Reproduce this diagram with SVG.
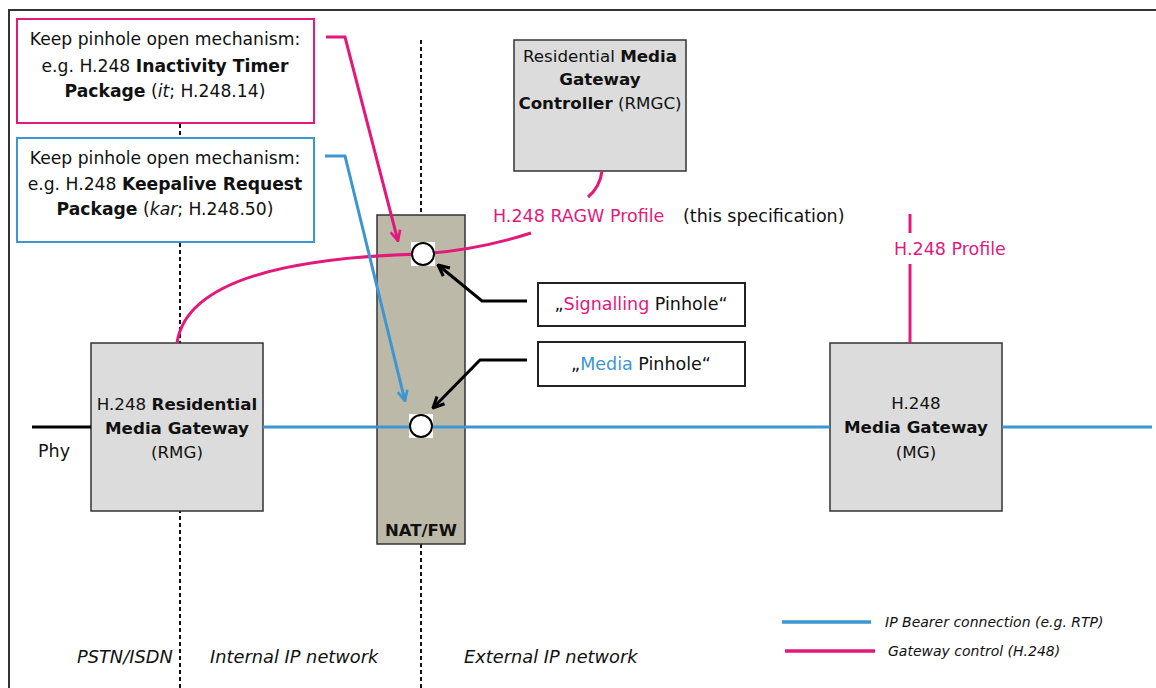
<svg xmlns="http://www.w3.org/2000/svg" width="1156" height="688" viewBox="0 0 1156 688">
  <defs>
    <style>
      text { font-family: "DejaVu Sans", "Liberation Sans", sans-serif; font-size: 17.5px; fill: #111; }
      .c { text-anchor: middle; }
      .b { font-weight: bold; }
      .i { font-style: italic; }
      .pk { fill: #e2197b; }
      .bl { fill: #3d95d1; }
      .box { fill: #dcdcdc; stroke: #333; stroke-width: 1.5; }
      .node text { font-size: 16.7px; }
      .note { fill: #fff; stroke-width: 2; }
      .notes text { font-size: 17.2px; }
      .divider { fill: none; stroke: #111; stroke-width: 2; stroke-dasharray: 4 3; }
      .ctl { fill: none; stroke: #e2197b; stroke-width: 3; }
      .bear { fill: none; stroke: #3d95d1; stroke-width: 3; }
      .ptr { fill: none; stroke: #000; stroke-width: 3; }
      .legend { font-size: 14px; }
      .zone { font-size: 17.8px; }
    </style>
    <marker id="ahPink" viewBox="0 0 12 12" refX="11" refY="6" markerWidth="13" markerHeight="13" markerUnits="userSpaceOnUse" orient="auto">
      <path d="M1.5,1.5 L11,6 L1.5,10.5" fill="none" stroke="#e2197b" stroke-width="2.4"/>
    </marker>
    <marker id="ahBlue" viewBox="0 0 12 12" refX="11" refY="6" markerWidth="13" markerHeight="13" markerUnits="userSpaceOnUse" orient="auto">
      <path d="M1.5,1.5 L11,6 L1.5,10.5" fill="none" stroke="#3d95d1" stroke-width="2.4"/>
    </marker>
    <marker id="ahBlack" viewBox="0 0 12 12" refX="11" refY="6" markerWidth="14" markerHeight="14" markerUnits="userSpaceOnUse" orient="auto">
      <path d="M1.5,1.5 L11,6 L1.5,10.5" fill="none" stroke="#000" stroke-width="2.6"/>
    </marker>
  </defs>

  <rect width="1156" height="688" fill="#fff"/>

  <!-- outer frame (top and left edges) -->
  <path d="M9,688 L9,10 L1156,10" fill="none" stroke="#333" stroke-width="2"/>

  <!-- zone dividers -->
  <g id="dividers">
    <line class="divider" x1="180" y1="19" x2="180" y2="688"/>
    <line class="divider" x1="421" y1="40" x2="421" y2="688"/>
  </g>

  <!-- notes -->
  <g id="note-inactivity" class="notes">
    <rect class="note" x="17" y="19" width="297" height="104" stroke="#e2197b"/>
    <text class="c" x="165" y="45">Keep pinhole open mechanism:</text>
    <text class="c" x="165" y="72">e.g. H.248 <tspan class="b">Inactivity Timer</tspan></text>
    <text class="c" x="165" y="97"><tspan class="b">Package</tspan> (<tspan class="i">it</tspan>; H.248.14)</text>
  </g>
  <g id="note-keepalive" class="notes">
    <rect class="note" x="17" y="138" width="297" height="104" stroke="#3d95d1"/>
    <text class="c" x="165" y="164">Keep pinhole open mechanism:</text>
    <text class="c" x="165" y="190">e.g. H.248 <tspan class="b">Keepalive Request</tspan></text>
    <text class="c" x="165" y="215"><tspan class="b">Package</tspan> (<tspan class="i">kar</tspan>; H.248.50)</text>
  </g>

  <!-- controller -->
  <g id="rmgc" class="node">
    <rect class="box" x="514" y="40" width="172" height="131"/>
    <text class="c" x="600" y="62">Residential <tspan class="b">Media</tspan></text>
    <text class="c b" x="600" y="85">Gateway</text>
    <text class="c" x="600" y="109"><tspan class="b">Controller</tspan> (RMGC)</text>
  </g>

  <!-- NAT / firewall -->
  <g id="natfw">
    <rect x="377" y="215" width="88" height="329" fill="#bdb9a8" stroke="#333" stroke-width="1.5"/>
    <text class="c b" x="421" y="536" style="font-size:16.5px">NAT/FW</text>
  </g>

  <!-- gateways -->
  <g id="rmg" class="node">
    <rect class="box" x="91" y="343" width="172" height="168"/>
    <text class="c" x="177" y="410">H.248 <tspan class="b">Residential</tspan></text>
    <text class="c b" x="177" y="434">Media Gateway</text>
    <text class="c" x="177" y="458">(RMG)</text>
  </g>
  <g id="mg" class="node">
    <rect class="box" x="830" y="343" width="172" height="168"/>
    <text class="c" x="916" y="409">H.248</text>
    <text class="c b" x="916" y="433">Media Gateway</text>
    <text class="c" x="916" y="458">(MG)</text>
  </g>

  <!-- pinhole labels -->
  <g id="label-signalling">
    <rect x="538" y="283" width="207" height="43" fill="#fff" stroke="#222" stroke-width="2"/>
    <text class="c" x="641" y="310">„<tspan class="pk">Signalling</tspan> Pinhole“</text>
  </g>
  <g id="label-media">
    <rect x="538" y="342" width="207" height="44" fill="#fff" stroke="#222" stroke-width="2"/>
    <text class="c" x="641" y="370">„<tspan class="bl">Media</tspan> Pinhole“</text>
  </g>

  <!-- connectors -->
  <g id="connectors">
    <!-- physical line -->
    <line x1="32" y1="427" x2="91" y2="427" stroke="#000" stroke-width="3"/>
    <!-- IP bearer -->
    <line class="bear" x1="263" y1="427" x2="830" y2="427"/>
    <line class="bear" x1="1002" y1="427" x2="1152" y2="427"/>
    <!-- gateway control, RAGW profile -->
    <path class="ctl" d="M602,171 Q600,187 588,197"/>
    <path class="ctl" d="M177,343 C185,288 265,258 422,254 Q478,250 531,233"/>
    <!-- gateway control, H.248 profile -->
    <line class="ctl" x1="910" y1="214" x2="910" y2="233"/>
    <line class="ctl" x1="910" y1="264" x2="910" y2="343"/>
    <!-- keep-alive pointers -->
    <path class="ctl" d="M326,37 L345,37 L398,241" marker-end="url(#ahPink)"/>
    <path class="bear" d="M325,156 L345,156 L405,401" marker-end="url(#ahBlue)"/>
    <!-- pinhole pointers -->
    <path class="ptr" d="M527,301 L482,301 L438,265" marker-end="url(#ahBlack)"/>
    <path class="ptr" d="M527,360 L480,360 L433,408" marker-end="url(#ahBlack)"/>
  </g>

  <!-- pinholes -->
  <g id="pinhole-signalling">
    <rect x="411" y="242" width="24" height="24" fill="#fff"/>
    <circle cx="423" cy="254" r="11" fill="#fff" stroke="#000" stroke-width="2"/>
  </g>
  <g id="pinhole-media">
    <rect x="409" y="414" width="24" height="24" fill="#fff"/>
    <circle cx="421" cy="426" r="11" fill="#fff" stroke="#000" stroke-width="2"/>
  </g>

  <!-- connector labels -->
  <text class="pk" x="493" y="222">H.248 RAGW Profile</text>
  <text x="683" y="222">(this specification)</text>
  <text class="pk c" x="950" y="255">H.248 Profile</text>
  <text x="38" y="457">Phy</text>

  <!-- zone names -->
  <text class="i zone" x="77" y="663">PSTN/ISDN</text>
  <text class="i zone" x="210" y="663">Internal IP network</text>
  <text class="i zone" x="464" y="663">External IP network</text>

  <!-- legend -->
  <g id="legend">
    <line x1="782" y1="622" x2="871" y2="622" stroke="#3d95d1" stroke-width="3.5"/>
    <text class="i legend" x="885" y="627">IP Bearer connection (e.g. RTP)</text>
    <line x1="785" y1="651" x2="875" y2="651" stroke="#e2197b" stroke-width="3.5"/>
    <text class="i legend" x="888" y="656">Gateway control (H.248)</text>
  </g>
</svg>
